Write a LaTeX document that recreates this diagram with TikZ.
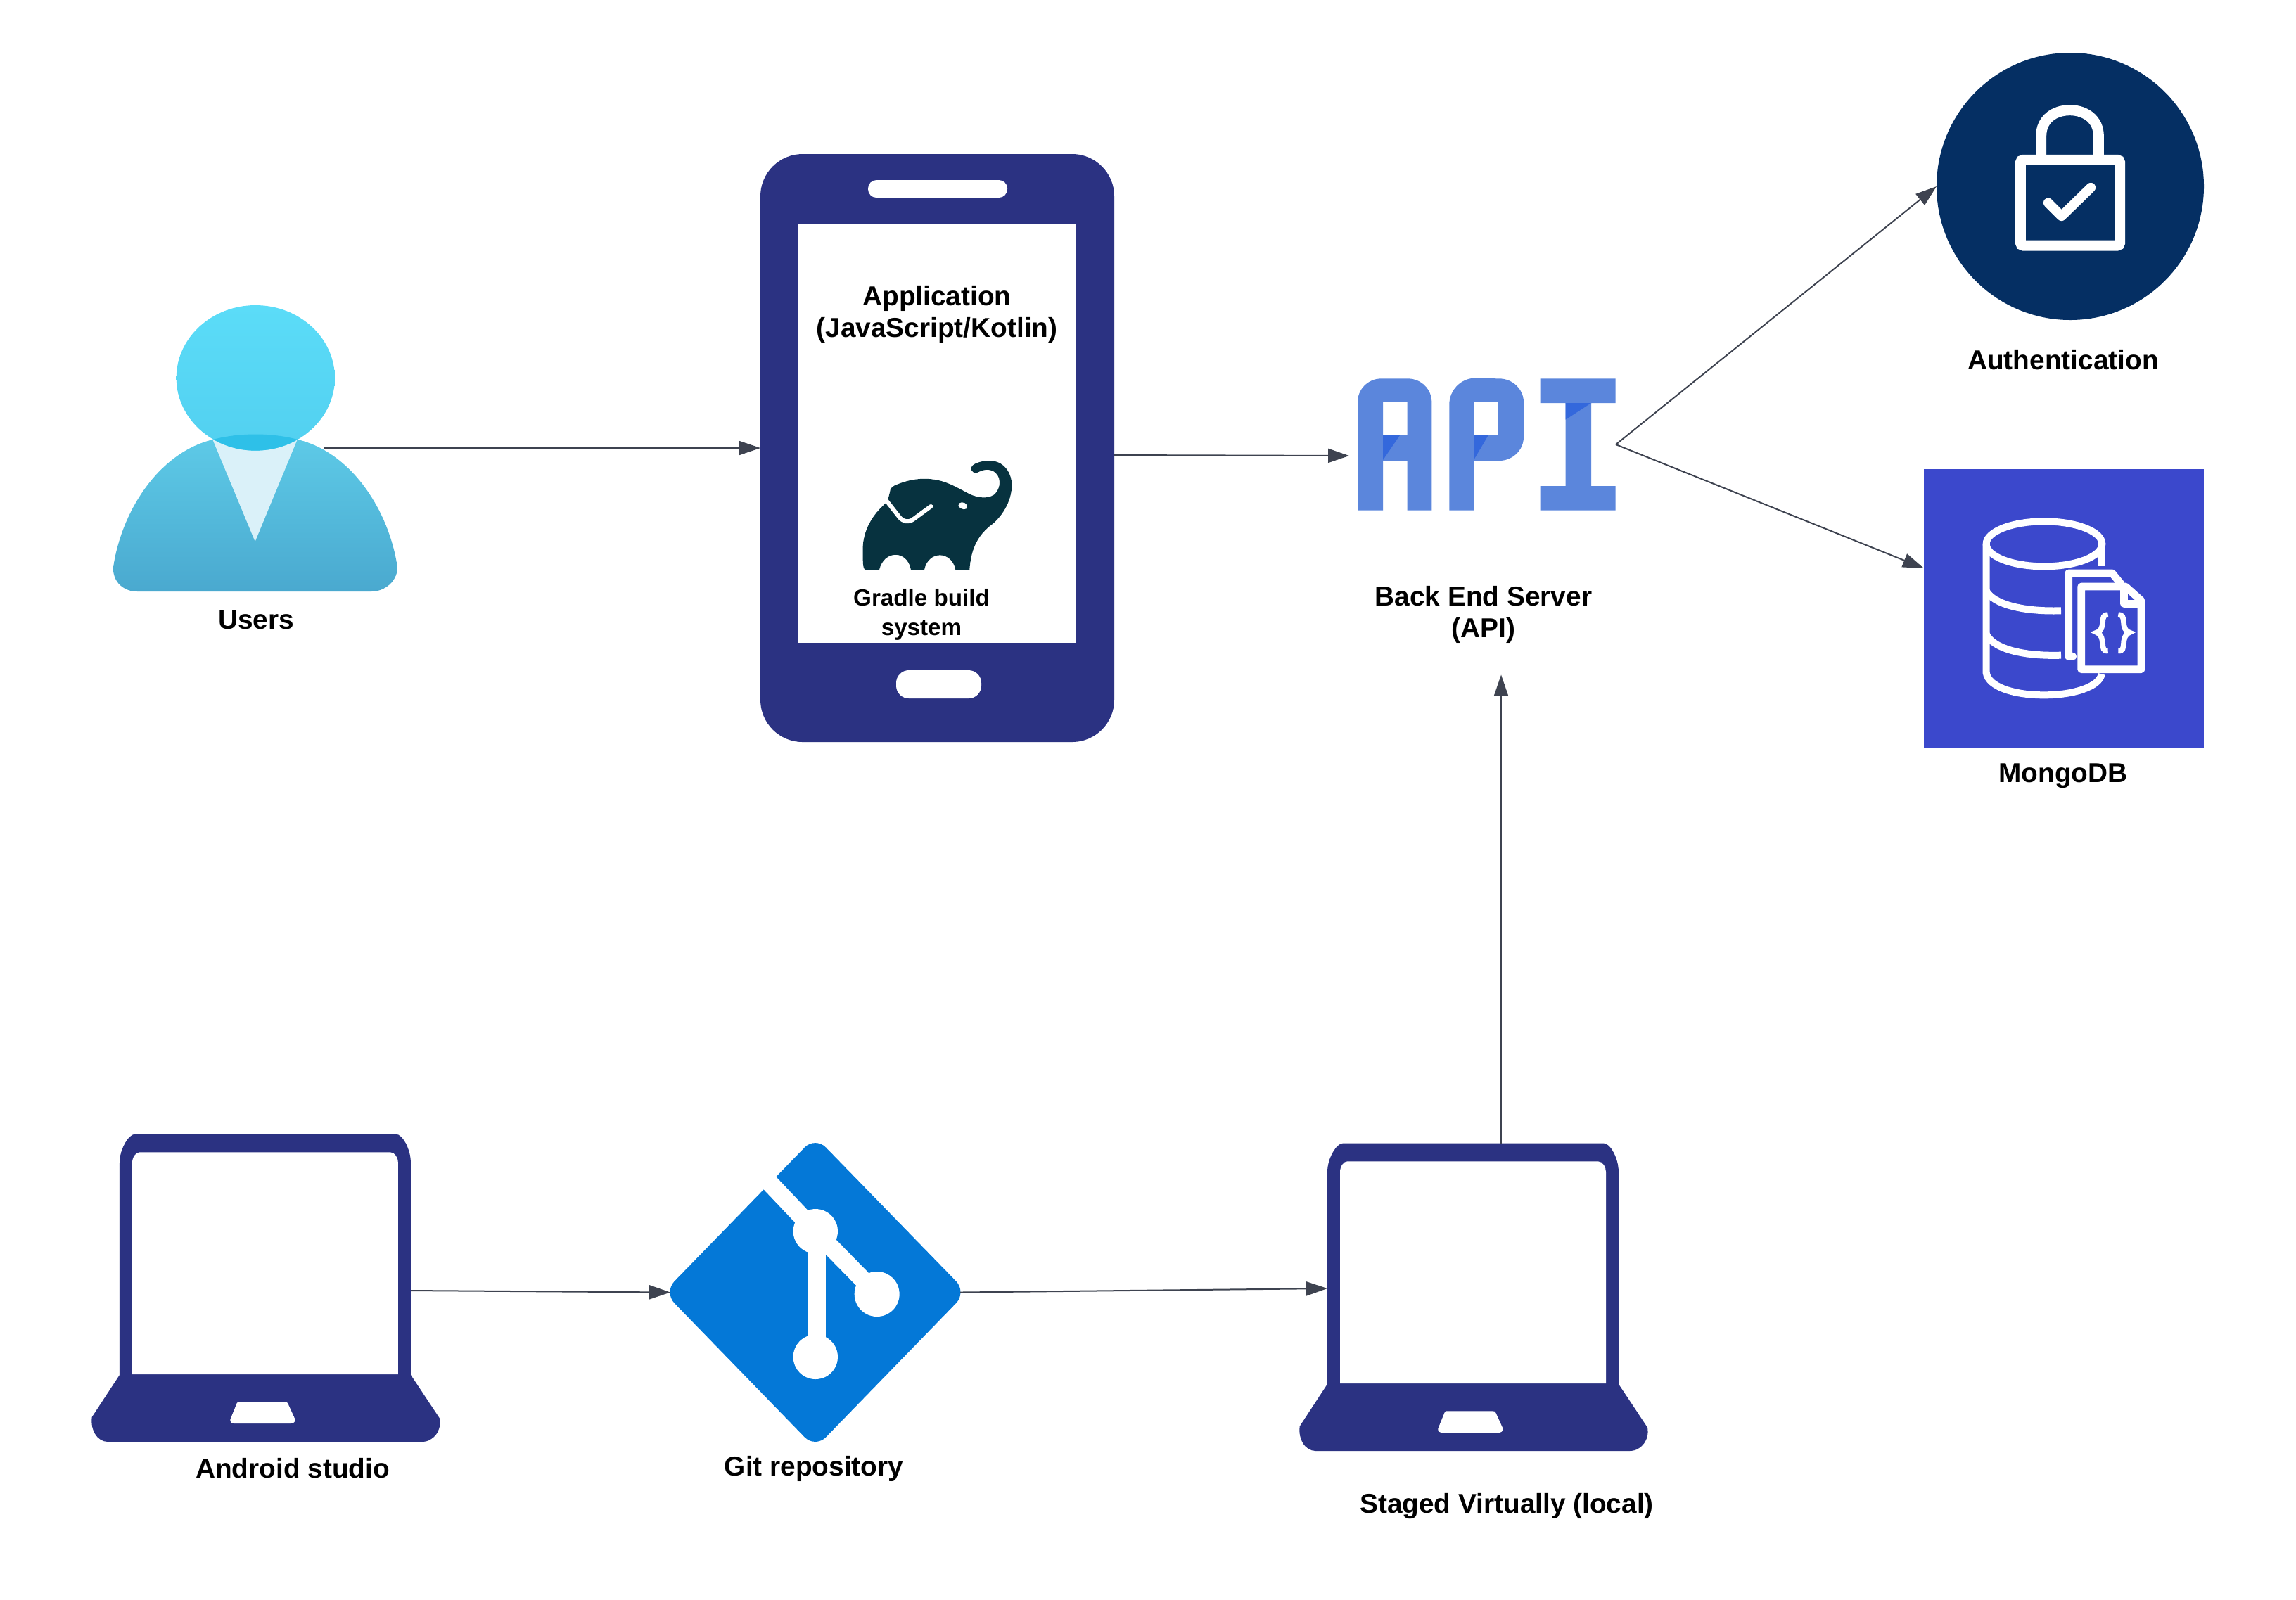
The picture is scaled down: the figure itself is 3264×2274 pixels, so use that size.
\documentclass[tikz,border=0pt]{standalone}
\usepackage{fontspec}
\setmainfont{Liberation Sans}
\usetikzlibrary{arrows.meta}
\definecolor{navy}{HTML}{2B3282}
\definecolor{authblue}{HTML}{052F63}
\definecolor{mongoblue}{HTML}{3B48CC}
\definecolor{gitblue}{HTML}{0478D7}
\definecolor{apilight}{HTML}{5B86DC}
\definecolor{apidark}{HTML}{3468DC}
\definecolor{elephant}{HTML}{07323F}
\definecolor{wire}{HTML}{3E4350}
\tikzset{
  px/.style={x=0.25pt,y=-0.25pt},
  zoomed/.style={shift={#1},x=0.083333pt,y=-0.083333pt},
  iconbox/.style 2 args={rectangle,inner sep=0pt,outer sep=0pt,minimum width=#1*0.25pt,minimum height=#2*0.25pt},
  lbl/.style={font=\fontsize{9.7pt}{11.25pt}\selectfont\bfseries,align=center,inner sep=0pt,text=black},
  smalllbl/.style={font=\fontsize{8.3pt}{10.5pt}\selectfont\bfseries,align=center,inner sep=0pt,text=black},
  conn/.style={draw=wire,line width=0.5pt,-{Triangle[length=7.5pt,width=5pt]}},
  thinconn/.style={conn,line width=0.35pt},
  white stroke/.style={draw=white,line cap=round,line join=round},
}
\newcommand{\laptopshape}{%
  \fill[navy] (150,1095) -- (150,190) .. controls (150,130) and (190,68) .. (215,68) -- (1330,68)
    .. controls (1355,68) and (1392,130) .. (1392,190) -- (1392,1095) -- (1515,1280)
    .. controls (1525,1330) and (1490,1380) .. (1440,1380) -- (100,1380)
    .. controls (55,1380) and (25,1330) .. (32,1275) -- cycle;
  \fill[white] (204,1092) -- (204,190) .. controls (204,165) and (220,145) .. (235,145) -- (1305,145)
    .. controls (1325,145) and (1338,170) .. (1338,190) -- (1338,1092) -- cycle;
  \fill[white] (650,1216) .. controls (652,1211) and (655,1210) .. (660,1210) -- (855,1210)
    .. controls (862,1210) and (866,1212) .. (868,1217) -- (899,1285)
    .. controls (900,1296) and (890,1302) .. (880,1302) -- (640,1302)
    .. controls (630,1302) and (620,1296) .. (622,1285) -- cycle;
}
\newcommand{\bodypath}{(63,1190) .. controls (98,950) and (258,700) .. (488,645)
    .. controls (600,615) and (740,615) .. (850,645)
    .. controls (1080,700) and (1240,950) .. (1275,1190)
    .. controls (1275,1250) and (1220,1293) .. (1165,1293) -- (165,1293)
    .. controls (105,1293) and (60,1250) .. (63,1190) -- cycle}
\begin{document}
\begin{tikzpicture}[px]
\useasboundingbox (0,0) rectangle (3264,2274);

% anchor boxes and solid nodes
\node[iconbox={404}{407}] (users) at (363,637) {};
\node[iconbox={503}{836},fill=navy,rounded corners=15pt] (phone) at (1332.5,637) {};
\node[iconbox={395}{596},fill=white] (screen) at (1332.5,616) {};
\node[iconbox={198}{25},fill=white,rounded corners=3pt] (speaker) at (1333,268.5) {};
\node[iconbox={121}{40},fill=white,rounded corners=4.5pt] (homekey) at (1334.5,973) {};
\node[iconbox={367}{188}] (api) at (2113.5,632) {};
\node[circle,inner sep=0pt,outer sep=0pt,minimum size=95pt,fill=authblue] (auth) at (2943,265) {};
\node[iconbox={398}{397},fill=mongoblue] (mongo) at (2934,865) {};
\node[iconbox={412}{425}] (git) at (1159,1837.5) {};
\node[iconbox={414}{437}] (laptopA) at (377,1831) {};
\node[iconbox={414}{437}] (laptopB) at (2094,1844) {};

% laptops
\begin{scope}[zoomed={(120,1590)}]\laptopshape\end{scope}
\begin{scope}[zoomed={(1837,1603)}]\laptopshape\end{scope}

% user
\begin{scope}[zoomed={(140,410)}]
  \shade[top color=black!0!cyan!40!blue!0!white!0,top color={rgb,255:red,94;green,203;blue,232},bottom color={rgb,255:red,74;green,169;blue,207}] \bodypath;
  \fill[fill={rgb,255:red,218;green,241;blue,249}] (485,640) -- (668,1080) -- (850,640) -- cycle;
  \shade[top color={rgb,255:red,91;green,220;blue,248},bottom color={rgb,255:red,82;green,208;blue,240}] (670,382) ellipse [x radius=338,y radius=310];
  \begin{scope}
    \clip (670,382) ellipse [x radius=338,y radius=310];
    \fill[fill={rgb,255:red,46;green,192;blue,232}] \bodypath;
  \end{scope}
\end{scope}

% elephant
\begin{scope}[zoomed={(1060,600)}]
  \fill[elephant] (510,630) .. controls (498,625) and (500,590) .. (500,530)
    .. controls (505,450) and (550,385) .. (605,340) -- (615,300)
    .. controls (615,280) and (630,272) .. (650,265)
    .. controls (700,245) and (750,238) .. (800,245)
    .. controls (860,252) and (910,285) .. (960,310)
    .. controls (990,322) and (1030,330) .. (1060,310)
    .. controls (1090,285) and (1095,225) .. (1050,207)
    .. controls (1030,198) and (1005,207) .. (985,217)
    .. controls (965,220) and (950,195) .. (975,180)
    .. controls (1000,168) and (1020,165) .. (1040,165)
    .. controls (1100,165) and (1135,215) .. (1135,270)
    .. controls (1135,340) and (1090,410) .. (1040,445)
    .. controls (985,490) and (960,550) .. (955,630) -- (895,630)
    .. controls (880,550) and (780,545) .. (762,630) -- (705,630)
    .. controls (690,545) and (590,545) .. (570,630) -- cycle;
  \draw[white stroke,line width=1.5pt] (600,335) -- (655,405) .. controls (670,425) and (695,430) .. (715,415) -- (790,360);
  \fill[white] (907,358) .. controls (905,340) and (935,335) .. (945,358) .. controls (948,380) and (915,375) .. (907,358) -- cycle;
\end{scope}

% API glyphs
\begin{scope}[zoomed={(1880,500)}]
  \fill[apilight,even odd rule] (150,677) -- (150,215) .. controls (150,160) and (195,115) .. (250,115) -- (365,115)
     .. controls (420,115) and (466,160) .. (466,215) -- (466,677) -- (362,677) -- (362,465) -- (258,465) -- (258,677) -- cycle
     (258,213) rectangle (362,357);
  \fill[apilight,even odd rule] (541,677) -- (541,225) .. controls (541,165) and (590,113) .. (650,113) -- (755,115)
     .. controls (810,115) and (858,160) .. (858,215) -- (858,365) .. controls (858,420) and (810,465) .. (755,465) -- (645,465) -- (645,677) -- cycle
     (645,213) rectangle (750,357);
  \fill[apilight] (929,115) rectangle (1250,219) (1037,219) rectangle (1146,573) (929,573) rectangle (1250,677);
  \fill[apidark] (258,357) -- (330,357) -- (258,462) -- cycle;
  \fill[apidark] (645,357) -- (707,357) -- (645,462) -- cycle;
  \fill[apidark] (1037,219) -- (1146,219) -- (1037,290) -- cycle;
\end{scope}

% lock
\begin{scope}[zoomed={(2720,60)}]
  \draw[draw=white,line width=3.75pt,rounded corners=1pt] (457,502) rectangle (881,867);
  \draw[draw=white,line width=3.75pt] (545,490) -- (545,400) .. controls (545,330) and (600,290) .. (667,290) .. controls (735,290) and (790,330) .. (790,400) -- (790,490);
  \draw[white stroke,line width=3.4pt] (575,685) -- (632,742) -- (757,620);
\end{scope}

% database
\begin{scope}[zoomed={(2720,650)}]
  \draw[draw=white,line width=2.5pt] (558,370) ellipse [x radius=247,y radius=96];
  \draw[draw=white,line width=2.5pt] (311,370) -- (311,920) .. controls (320,980) and (430,1015) .. (558,1015) .. controls (680,1015) and (795,980) .. (803,925);
  \draw[draw=white,line width=2.5pt] (805,370) -- (805,465);
  \draw[draw=white,line width=2.5pt] (311,570) .. controls (340,625) and (460,660) .. (630,655);
  \draw[draw=white,line width=2.5pt] (311,755) .. controls (340,815) and (460,850) .. (630,845);
  \draw[draw=white,line width=2.7pt,line join=round,line cap=round,fill=mongoblue] (680,850) -- (662,850) -- (662,495) -- (848,495) -- (885,540);
  \fill[mongoblue] (700,537) rectangle (905,920);
  \draw[draw=white,line width=2.7pt,line join=round,fill=mongoblue] (716,905) -- (716,552) -- (905,552) -- (972,612) -- (972,905) -- cycle;
  \draw[draw=white,line width=2.7pt,line join=round] (898,552) -- (898,625) -- (972,625);
  \draw[draw=white,line width=1.9pt] (830,672) .. controls (790,670) and (825,735) .. (782,748) .. controls (825,765) and (790,832) .. (830,826);
  \draw[draw=white,line width=1.9pt] (874,672) .. controls (914,670) and (879,735) .. (922,748) .. controls (879,765) and (914,832) .. (874,826);
\end{scope}

% git mark
\begin{scope}[zoomed={(930,1600)}]
  \fill[gitblue,rounded corners=5.4pt] (687,48) -- (1333,712) -- (687,1377) -- (41,712) -- cycle;
  \draw[draw=white,line width=6.3pt] (470,222) -- (688,452) -- (950,720);
  \draw[draw=white,line width=6.3pt] (695,452) -- (695,988);
  \fill[white] (688,452) circle [radius=95];
  \fill[white] (950,720) circle [radius=96];
  \fill[white] (688,988) circle [radius=95];
\end{scope}

% labels
\node[lbl] (usersLabel) at (364,881) {Users};
\node[lbl] (appLabel) at (1332,447) {Application\\(JavaScript/Kotlin)};
\node[smalllbl] (gradleLabel) at (1310,874) {Gradle build\\system};
\node[lbl] (apiLabel) at (2109,874) {Back End Server\\(API)};
\node[lbl] (authLabel) at (2933,512) {Authentication};
\node[lbl] (mongoLabel) at (2933,1103) {MongoDB};
\node[lbl] (androidLabel) at (416,2088) {Android studio};
\node[lbl] (gitLabel) at (1157,2088) {Git repository};
\node[lbl] (stagedLabel) at (2142,2142) {Staged Virtually (local)};

% connectors
\draw[thinconn] ([xshift=-26.25pt]users.east) -- (phone.west);
\draw[conn] ([yshift=-2.5pt]phone.east) -- ([xshift=-3pt,yshift=-4pt]api.west);
\draw[conn] (api.east) -- (auth.west);
\draw[conn] (api.east) -- ([yshift=14.25pt]mongo.west);
\draw[conn] ([yshift=-1pt]laptopA.east) -- (git.west);
\draw[conn] (git.east) -- ([yshift=3pt]laptopB.west);
\draw[conn] ([xshift=10pt]laptopB.north) -- ([xshift=6.25pt,yshift=-11pt]apiLabel.south);
\end{tikzpicture}
\end{document}
